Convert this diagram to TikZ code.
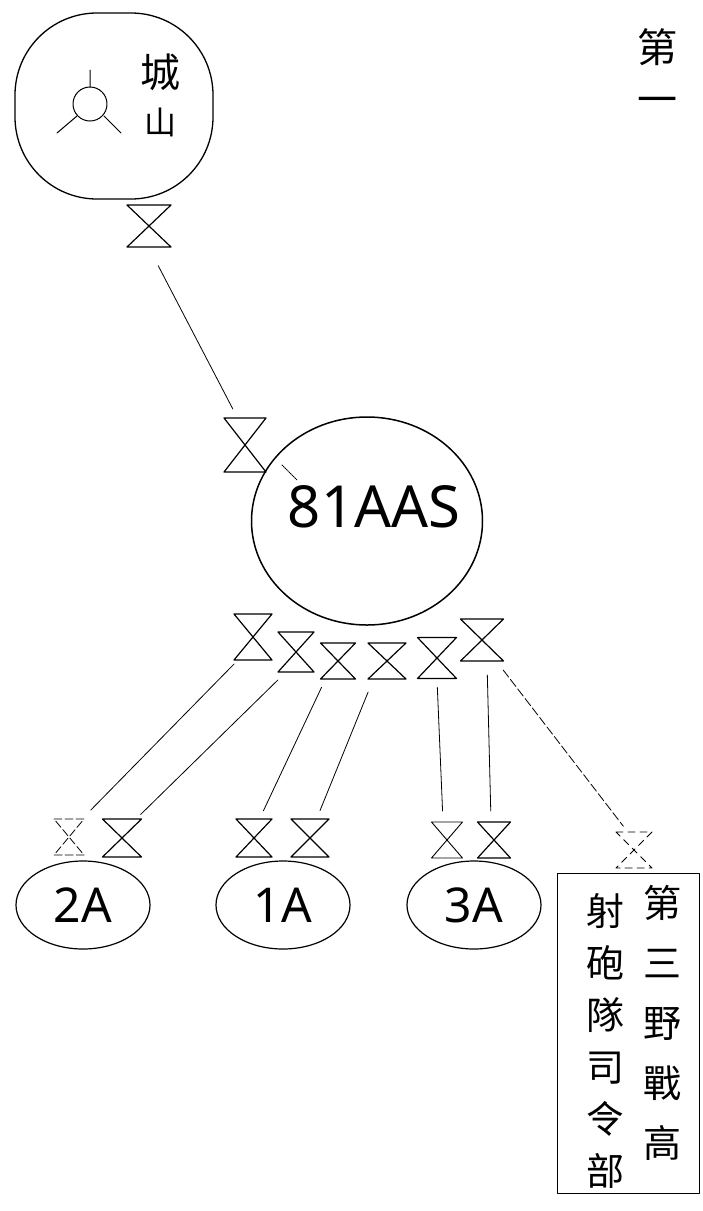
\documentclass[tikz,border=0pt]{standalone}
\usepackage{fontspec}
\usepackage{tikz}
\usetikzlibrary{arrows.meta, positioning, shapes}
\usetikzlibrary{shapes.geometric}
\newfontfamily\cjk{Noto Sans CJK TC}
\newfontfamily\hand{Noto Sans}

\begin{document}
\begin{tikzpicture}[x=1pt, y=-1pt, line cap=round, line join=round,
	hgline/.style={line width=1.2pt},
	hg/.style 2 args={inner sep=0pt, outer sep=0pt, minimum width=#1pt, minimum height=#2pt, path picture={
		\draw[hgline] ([shift={(1pt,-1pt)}]path picture bounding box.north west) -- ([shift={(-1pt,-1pt)}]path picture bounding box.north east)
			-- ([shift={(1pt,1pt)}]path picture bounding box.south west) -- ([shift={(-1pt,1pt)}]path picture bounding box.south east) -- cycle;}},
	wire/.style={line width=0.8pt},
	unit/.style={draw, ellipse, line width=1.2pt, inner sep=0pt, minimum width=134pt, minimum height=88pt, font=\hand\fontsize{48}{48}\selectfont}]

	\useasboundingbox (0,0) rectangle (703,1211);

	% 标题
	\node[font=\cjk\fontsize{40}{52}\selectfont, align=center, anchor=north] (title) at (657,25) {第\\一};

	% 城山
	\node[draw, rectangle, rounded corners=82pt, line width=1.3pt, minimum width=198pt, minimum height=186pt] (chengshan) at (114,106) {};
	\draw[line width=1pt] (90,104) circle[radius=17pt];
	\draw[line width=1pt] (90,70) -- (90,87) (77,116) -- (57,133) (104,116) -- (121,133);
	\node[font=\cjk\fontsize{40}{40}\selectfont] (cheng) at (160,72) {城};
	\node[font=\cjk\fontsize{32}{32}\selectfont] (shan) at (160,122) {山};
	\node[hg={46}{44}] (hg0) at (149,226) {};

	% 81AAS
	\node[hg={44}{56}] (hg1) at (245,445) {};
	\node[draw, ellipse, line width=1.5pt, minimum width=231pt, minimum height=208pt] (aas) at (367,521) {};
	\node[font=\hand\fontsize{58}{58}\selectfont] (aaslbl) at (374,507) {81AAS};
	\draw[wire, shorten <=20pt, shorten >=9pt] (hg0.south) -- ([xshift=-8pt]hg1.north);
	\draw[densely dotted, line width=1pt] ([shift={(15pt,-20pt)}]hg1.east) -- ++(15,15);

	% 下方的收发器
	\node[hg={40}{48}] (h1) at (253,637) {};
	\node[hg={38}{42}] (h2) at (296,652) {};
	\node[hg={37}{38}] (h3) at (338,661) {};
	\node[hg={40}{38}] (h4) at (387,661) {};
	\node[hg={41}{43}] (h5) at (437,658) {};
	\node[hg={45}{44}] (h6) at (482,640) {};

	\node[hg={32}{38}, hgline/.append style={line width=0.8pt, dash pattern=on 8pt off 3pt}] (b1) at (69,837) {};
	\node[hg={41}{40}] (b2) at (122,838) {};
	\node[hg={38}{40}] (b3) at (254,838) {};
	\node[hg={40}{40}] (b4) at (310,838) {};
	\node[hg={33}{38}, hgline/.append style={line width=0.9pt}] (b5) at (447,840) {};
	\node[hg={35}{38}] (b6) at (494,840) {};
	\node[hg={38}{38}, hgline/.append style={line width=0.9pt, dash pattern=on 7pt off 5pt}] (b7) at (634,850) {};

	% 各军
	\node[unit] (a2) at (83,905) {2A};
	\node[unit] (a1) at (283,905) {1A};
	\node[unit] (a3) at (474,905) {3A};

	% 司令部
	\node[draw, rectangle, line width=1pt, minimum width=142pt, minimum height=320pt] (hq) at (628,1033) {};
	\node[font=\cjk\fontsize{38}{60}\selectfont, align=center, anchor=north] (hqr) at (662,882) {第\\三\\野\\戰\\高};
	\node[font=\cjk\fontsize{38}{52}\selectfont, align=center, anchor=north] (hql) at (605,890) {射\\砲\\隊\\司\\令\\部};

	% 连线
	\draw[wire, shorten <=4pt, shorten >=11pt] ([xshift=-16pt]h1.south) -- ([xshift=14pt]b1.north);
	\draw[wire, shorten <=10pt, shorten >=5pt] ([xshift=-11pt]h2.south) -- ([xshift=15pt]b2.north);
	\draw[wire, shorten <=8pt, shorten >=8pt] ([xshift=-13pt]h3.south) -- ([xshift=6pt]b3.north);
	\draw[wire, shorten <=13pt, shorten >=8pt] ([xshift=-14pt]h4.south) -- ([xshift=7pt]b4.north);
	\draw[wire, shorten <=8pt, shorten >=10pt] (h5.south) -- ([xshift=-4pt]b5.north);
	\draw[wire, shorten <=13pt, shorten >=10pt] ([xshift=5pt]h6.south) -- ([xshift=-3pt]b6.north);
	\draw[wire, dash pattern=on 9pt off 3pt, shorten <=10pt, shorten >=6pt] ([xshift=15pt]h6.south) -- ([xshift=-7pt]b7.north);

\end{tikzpicture}
\end{document}
